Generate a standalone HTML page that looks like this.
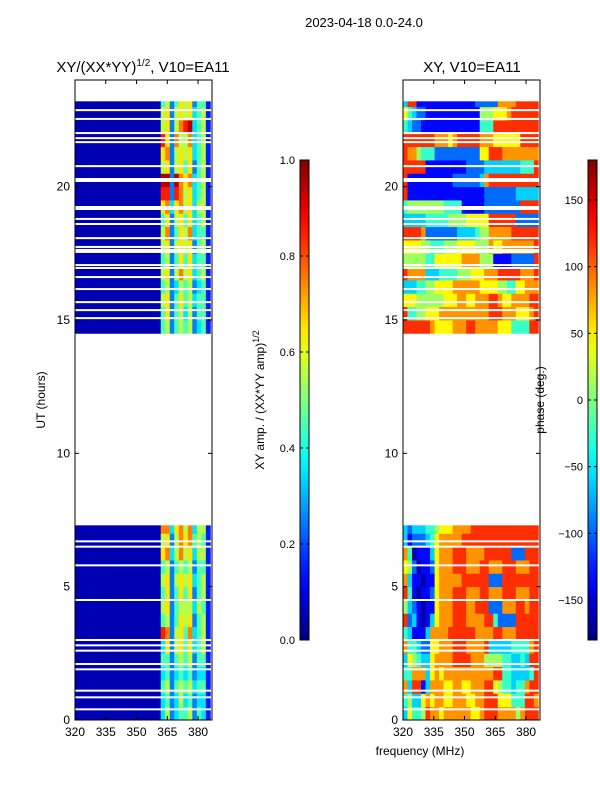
<!DOCTYPE html>
<html><head><meta charset="utf-8"><style>
body{margin:0;background:#fff;}
svg text{font-family:"Liberation Sans",sans-serif;fill:#000;}
</style></head><body>
<svg id="fig" width="600" height="800" xmlns="http://www.w3.org/2000/svg">
<defs>
<linearGradient id="jetg" x1="0" y1="1" x2="0" y2="0"></linearGradient>
</defs>
<text x="364" y="27" font-size="13" text-anchor="middle">2023-04-18 0.0-24.0</text>
<text x="143" y="72" font-size="15" text-anchor="middle">XY/(XX*YY)<tspan font-size="10" dy="-6">1/2</tspan><tspan dy="6">, V10=EA11</tspan></text>
<text x="472" y="72" font-size="15" text-anchor="middle">XY, V10=EA11</text>
<text x="420" y="755" font-size="12" text-anchor="middle">frequency (MHz)</text>
<text transform="translate(45,400) rotate(-90)" font-size="12" text-anchor="middle">UT (hours)</text>
<text transform="translate(264,400) rotate(-90)" font-size="12" text-anchor="middle">XY amp. / (XX*YY amp)<tspan font-size="9" dy="-5">1/2</tspan></text>
<text transform="translate(544,400) rotate(-90)" font-size="12" text-anchor="middle">phase (deg.)</text>
<g id="left"></g>
<g id="right"></g>
<g id="cbars"></g>
</svg>
<script>
const timeEdges=[0,0.5,1,1.5,2,2.5,3,3.5,4,4.5,5,5.5,6,6.5,7,7.3,14.5,15,15.5,16,16.5,17,17.5,18,18.5,19,19.5,20,20.5,21,21.5,22,22.5,23,23.2];
const freqStart=320, freqStep=2.2, nChan=30;
const ampBg="0000000000000000000";
const ampBright=["35234452431","34235342331","45245453441","34234342331","44245452441","36256463451","87256473451","45246562451","56245553541","46246462451","56256563451","45245452441","67357563551","56257674541","77367573551",null,
"45245452341","46245352441","56246453441","45235452341","56257563451","45246463441","56256562451","57246573441","46256463451","67367563551","88287563451","99297673451","56256462451","67256563451","86275573451","56257893451","56256563451","45246562441"];
const phaseRows=["364458776777777667888777757888","453367677667776677888666444887","738813777667766777886544344788","447773676777777777778844333348","365433677778888777555544334388","744322667778887777833333444478","431113777788888877778877788888","823101367778887777884222288888","532101167778887788822277788788","841011267778887778877788877788","731101167777788888822288888888","652011267778887778877788877788","740111367778887777888888222888","312223467777788888888888888888","323334456667777888888888888888",null,
"888888766667778877777666444488","844556667777777777788877766678","666555555666776677788766777788","333445566667777776666554466777","877773334444555666777888887778","555554466666677775551111222228","666655444555666655576677777778","888872222222333345577777888888","333334444455556666688888822222","455555555444411111222222228888","811111111111111111222222233333","811111111112222223788888888888","888881111111112222333333334448","877544422222222226688877777777","888888877767888887776666668888","432211111111111114448888888888","643221111111111115556667888888","388111111111111122222777788888"];
const gapTimes=[0.4,0.85,1.1,1.9,2.1,2.6,2.8,3.0,4.5,5.8,6.5,6.7,15.07,15.37,15.67,16.16,16.61,16.95,17.06,17.59,17.74,18.07,18.6,18.79,19.2,20.25,20.77,21.67,21.82,22.01,22.54,22.87];
const thickGaps=[17.59,19.2,20.25];
const yTicks=[0,5,10,15,20];
const xTicks=[320,335,350,365,380];
const ampTicks=[0.0,0.2,0.4,0.6,0.8,1.0];
const phaseTicks=[-150,-100,-50,0,50,100,150];

const NS="http://www.w3.org/2000/svg";
function jet(v){v=Math.max(0,Math.min(1,v));const c=x=>Math.round(255*Math.max(0,Math.min(1,x)));
return `rgb(${c(1.5-Math.abs(4*v-3))},${c(1.5-Math.abs(4*v-2))},${c(1.5-Math.abs(4*v-1))})`;}
function mk(p,tag,attrs){const e=document.createElementNS(NS,tag);for(const k in attrs)e.setAttribute(k,attrs[k]);p.appendChild(e);return e;}
const yTop=80,yBot=720,tMax=24;
const ys=t=>yBot-(t/tMax)*(yBot-yTop);
const xMax=386.8;
function panel(g,x0,x1,valFn){
  const xs=f=>x0+(f-freqStart)/(xMax-freqStart)*(x1-x0);
  for(let r=0;r<timeEdges.length-1;r++){
    if(ampBright[r]===null)continue;
    for(let c=0;c<nChan;c++){
      const fa=freqStart+c*freqStep, fb=Math.min(xMax,fa+freqStep);
      const rc=mk(g,'rect',{x:xs(fa),y:ys(timeEdges[r+1]),width:xs(fb)-xs(fa)+0.4,height:ys(timeEdges[r])-ys(timeEdges[r+1])+0.4,fill:jet(valFn(r,c))});
      
      
    }
  }
  gapTimes.forEach(t=>{const h=thickGaps.includes(t)?4:2;
    const gr=mk(g,'rect',{x:x0,y:ys(t)-h/2,width:x1-x0,height:h,fill:'#fff'});
    
    });
  const fr=mk(g,'rect',{x:x0,y:yTop,width:x1-x0,height:yBot-yTop,fill:'none',stroke:'#000','stroke-width':1});
  
  
  yTicks.forEach(t=>{const y=ys(t);
    mk(g,'line',{x1:x0,x2:x0+4,y1:y,y2:y,stroke:'#000'});mk(g,'line',{x1:x1,x2:x1-4,y1:y,y2:y,stroke:'#000'});
    const tx=mk(g,'text',{x:x0-5,y:y+4,'font-size':12,'text-anchor':'end'});tx.textContent=t;
    
    });
  xTicks.forEach(f=>{const x=xs(f);
    mk(g,'line',{x1:x,x2:x,y1:yBot,y2:yBot-4,stroke:'#000'});mk(g,'line',{x1:x,x2:x,y1:yTop,y2:yTop+4,stroke:'#000'});
    const tx=mk(g,'text',{x:x,y:yBot+16,'font-size':12,'text-anchor':'middle'});tx.textContent=f;
    
    });
}
panel(document.getElementById('left'),75,212,(r,c)=>{const s=ampBg+ampBright[r];return (+s[c])/10+0.05;});
panel(document.getElementById('right'),403,540,(r,c)=>((+phaseRows[r][c])+0.3)/10);

const gr=document.getElementById('jetg');
for(let i=0;i<=20;i++){mk(gr,'stop',{offset:i/20,'stop-color':jet(i/20)});}
function cbar(x,ticks,lo,hi,fmt,name){
  const g=document.getElementById('cbars');
  const b=mk(g,'rect',{x:x,y:160,width:9,height:480,fill:'url(#jetg)',stroke:'#000','stroke-width':1});
  
  
  ticks.forEach(v=>{const y=640-(v-lo)/(hi-lo)*480;
    mk(g,'line',{x1:x,x2:x+3,y1:y,y2:y,stroke:'#000'});mk(g,'line',{x1:x+9,x2:x+6,y1:y,y2:y,stroke:'#000'});
    const t=mk(g,'text',{x:x-5,y:y+4,'font-size':11,'text-anchor':'end'});t.textContent=fmt(v);
    
    });
}
cbar(300,ampTicks,0,1,v=>v.toFixed(1),'amp-colorbar');
cbar(588,phaseTicks,-180,180,v=>v<0?'\u2212'+(-v):String(v),'phase-colorbar');
</script>
</body></html>
